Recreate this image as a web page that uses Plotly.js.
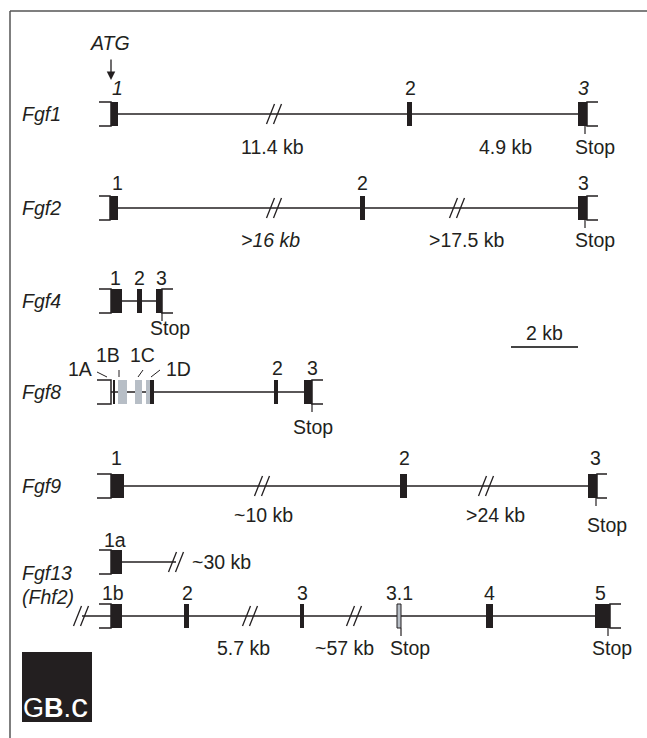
<!DOCTYPE html>
<html><head><meta charset="utf-8">
<script src="https://cdn.plot.ly/plotly-3.0.1.min.js"></script>
<style>html,body{margin:0;padding:0;background:#fff}</style>
</head><body>
<div id="chart" style="width:647px;height:738px"></div>
<script>
// ---- data (diagram coordinates) ----
const rowNames = ["Fgf1","Fgf2","Fgf4","Fgf8","Fgf9","Fgf13 1a","Fgf13 1b"];
const rowY = [114,208,301,392,486,562,616];

const geneLabels = ["Fgf1","Fgf2","Fgf4","Fgf8","Fgf9","Fgf13","(Fhf2)"];
const geneLabelY = [114,208,301,392,486,573,597];

const exonRow   = [0,0,0, 1,1,1, 2,2,2, 3,3,3,3,3,3,3, 4,4,4, 5, 6,6,6,6,6,6];
const exonStart = [111,407,578, 110,360,578, 111,137,156, 113,118,135,146,150,274,304, 111,400,588, 111, 111,184,300,397,486,595];
const exonEnd   = [118,412,587, 118,365,587, 122,142,162, 115,127,142,150,154,278,312, 124,407,597, 122, 122,189,304,401,493,610];
const exonType  = ["b","b","b", "b","b","b", "b","b","b", "b","g","g","g","b","b","b", "b","b","b", "b", "b","b","b","o","b","b"];

const intronRow   = [0,1,2,3,4,5,6];
const intronStart = [118,118,122,111,124,122,82];
const intronEnd   = [578,578,156,304,588,176,595];

const bracketRow  = [0,0,1,1,2,2,3,3,4,4,5,6,6];
const bracketFrom = [99,598,99,598,99,173,97,323,97,607,99,99,621];
const bracketTo   = [111,587,110,587,111,162,111,312,111,597,111,111,610];

const breakRow = [0,1,1,4,4,5,6,6,6];
const breakX   = [274,274,457,262,486,176,81,250,354];

const exonLabels  = ["<i>1</i>","2","<i>3</i>", "1","2","3", "1","2","3", "2","3","1A","1B","1C","1D", "1","2","3", "1a", "1b","2","3","3.1","4","5"];
const exonLabelX  = [117,410,583, 117,362,583, 115,139,161, 277,312,80,108,142,178, 116,404,595, 115, 113,187,302,399,489,600];
const exonLabelY  = [88,88,88, 183,183,183, 278,278,278, 368,368,369,355,355,369, 458,458,458, 540, 593,593,593,593,593,593];

const leaderX0 = [97,119,143,160];
const leaderY0 = [372,370,370,370];
const leaderX1 = [107,119,138,151];
const leaderY1 = [377,377,377,377];

const sizeLabels = ["11.4 kb","4.9 kb","<i>>16 kb</i>",">17.5 kb","~10 kb",">24 kb","5.7 kb","~57 kb"];
const sizeX      = [272,505,270,467,263,495,243,344];
const sizeY      = [147,147,240,240,515,515,648,648];
const farLabel = "~30 kb", farX = 190, farY = 562;

const stopRow   = [0,1,2,3,4,6,6];
const stopX     = [585,585,162,312,596,401,608];
const stopTextX = [595,595,170,313,607,410,612];
const stopTextY = [147,240,328,427,525,648,648];

const scaleBar = {label:"2 kb", x0:511, x1:578, y:347, ty:333};
const atg = {label:"ATG", x:110, y:43, tailY:58, tipY:80};

// ---- styles ----
const INK = "#231f20";
const GREY = "#b7bec6";
const FONT = "Liberation Sans, Arial, sans-serif";
const FS = 19.5;
const H = 12; // half exon height

const shapes = [];
const ann = [];

// frame
shapes.push({type:"line",x0:10,x1:647,y0:11,y1:11,line:{color:"#555",width:1.5}});
shapes.push({type:"line",x0:10,x1:10,y0:11,y1:738,line:{color:"#555",width:1.5}});

// introns
intronRow.forEach((r,i)=>{
  shapes.push({type:"line",x0:intronStart[i],x1:intronEnd[i],y0:rowY[r],y1:rowY[r],line:{color:INK,width:1.5}});
});
// brackets
bracketRow.forEach((r,i)=>{
  const y=rowY[r], f=bracketFrom[i], t=bracketTo[i];
  shapes.push({type:"path",path:`M${f},${y-H} L${t},${y-H} L${t},${y+H} L${f},${y+H}`,line:{color:INK,width:1.5}});
});
// exons
exonRow.forEach((r,i)=>{
  const y=rowY[r], k=exonType[i];
  shapes.push({type:"rect",x0:exonStart[i],x1:exonEnd[i],y0:y-H,y1:y+H,
    fillcolor:k==="b"?INK:GREY,
    line:{color:k==="o"?INK:(k==="b"?INK:GREY),width:k==="o"?1:0}});
});
// breaks
breakRow.forEach((r,i)=>{
  const y=rowY[r], c=breakX[i];
  [-3.5,3.5].forEach(o=>{
    shapes.push({type:"line",x0:c+o-4,x1:c+o+4,y0:y+10,y1:y-10,line:{color:INK,width:1.3}});
  });
});
// stop ticks
stopRow.forEach((r,i)=>{
  shapes.push({type:"line",x0:stopX[i],x1:stopX[i],y0:rowY[r]+H,y1:rowY[r]+H+8,line:{color:INK,width:1.2}});
  ann.push({x:stopTextX[i],y:stopTextY[i],text:"Stop",xanchor:"center",yanchor:"middle"});
});
// leaders
leaderX0.forEach((x,i)=>{
  shapes.push({type:"line",x0:x,x1:leaderX1[i],y0:leaderY0[i],y1:leaderY1[i],line:{color:INK,width:1}});
});
// scale bar
shapes.push({type:"line",x0:scaleBar.x0,x1:scaleBar.x1,y0:scaleBar.y,y1:scaleBar.y,line:{color:"#444",width:2}});
ann.push({x:(scaleBar.x0+scaleBar.x1)/2,y:scaleBar.ty,text:scaleBar.label,xanchor:"center",yanchor:"middle"});

// logo
shapes.push({type:"rect",x0:22,x1:92,y0:652,y1:722,fillcolor:INK,line:{width:0}});
ann.push({x:21,y:705,text:"G<b>B</b>.<span style='font-size:34px'>c</span>",xanchor:"left",yanchor:"middle",font:{family:FONT,size:27,color:"#fff"}});

// labels
geneLabels.forEach((g,i)=>ann.push({x:20,y:geneLabelY[i],text:"<i>"+g+"</i>",xanchor:"left",yanchor:"middle"}));
exonLabels.forEach((t,i)=>ann.push({x:exonLabelX[i],y:exonLabelY[i],text:t,xanchor:"center",yanchor:"middle"}));
sizeLabels.forEach((t,i)=>ann.push({x:sizeX[i],y:sizeY[i],text:t,xanchor:"center",yanchor:"middle"}));
ann.push({x:farX,y:farY,text:farLabel,xanchor:"left",yanchor:"middle"});

// ATG arrow
ann.push({x:atg.x,y:atg.y,text:"<i>"+atg.label+"</i>",xanchor:"center",yanchor:"middle"});
ann.push({x:111,y:atg.tipY,ax:111,ay:atg.tailY,axref:"x",ayref:"y",text:"",showarrow:true,arrowhead:2,arrowsize:1.3,arrowwidth:1.3,arrowcolor:INK});

ann.forEach(a=>{ if(a.showarrow===undefined) a.showarrow=false; if(!a.font) a.font={family:FONT,size:FS,color:INK}; });

Plotly.newPlot("chart",[],{
  width:647,height:738,margin:{l:0,r:0,t:0,b:0},
  paper_bgcolor:"#fff",plot_bgcolor:"#fff",
  xaxis:{range:[0,647],visible:false,fixedrange:true},
  yaxis:{range:[738,0],visible:false,fixedrange:true},
  shapes:shapes,annotations:ann,showlegend:false
},{staticPlot:true,displayModeBar:false});
</script>
</body></html>
